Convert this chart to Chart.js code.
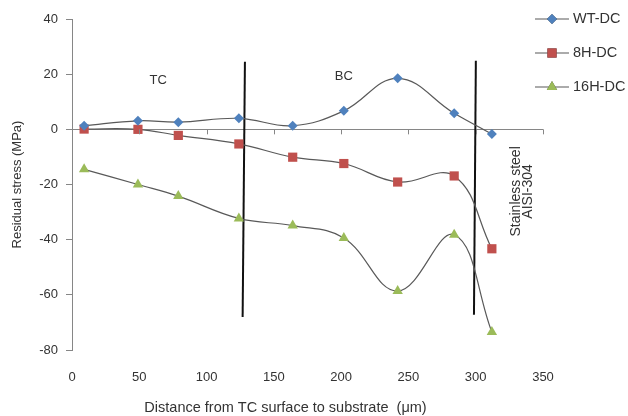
<!DOCTYPE html>
<html>
<head>
<meta charset="utf-8">
<script src="https://cdn.jsdelivr.net/npm/chart.js@4/dist/chart.umd.min.js"></script>
<style>
  html, body { margin: 0; padding: 0; background: #fff; }
  canvas { display: block; }
</style>
</head>
<body>
<canvas id="myChart" width="628" height="416"></canvas>
<script>
// distance from TC surface (um)
const xDist = [9, 49, 79, 124, 164, 202, 242, 284, 312];
const wtDC = [1.3, 3.1, 2.6, 4.0, 1.3, 6.7, 18.5, 5.8, -1.7];
const h8DC = [0.1, 0, -2.2, -5.3, -10.1, -12.4, -19.1, -16.9, -43.3];
const h16DC = [-14.5, -20.0, -24.2, -32.3, -34.9, -39.4, -58.6, -38.2, -73.5];
const seriesNames = ['WT-DC', '8H-DC', '16H-DC'];

// boundary lines TC/BC and BC/substrate
const tcLineX = [128.5, 126.8];
const tcLineY = [24.5, -68];
const bcLineX = [300.1, 298.7];
const bcLineY = [24.9, -67.2];

const xTitle = 'Distance from TC surface to substrate  (μm)';
const yTitle = 'Residual stress (MPa)';

const font = 'Liberation Sans, Arial, sans-serif';
const txtColor = '#333';
const axisColor = '#868686';

function pts(xs, ys) {
    return xs.map((x, i) => ({x: x, y: ys[i]}));
}

function series(label, ys, color, style, r) {
    return {
        label: label,
        data: pts(xDist, ys),
        borderColor: '#595959',
        borderWidth: 1.2,
        backgroundColor: color,
        pointBackgroundColor: color,
        pointBorderColor: color,
        pointBorderWidth: 0,
        pointStyle: style,
        pointRadius: r,
        tension: 0.4,
        order: 1,
        isSeries: true,
    };
}

function divider(xs, ys) {
    return {
        data: pts(xs, ys),
        borderColor: '#111',
        borderWidth: 2,
        pointRadius: 0,
        tension: 0,
        order: 2,
    };
}

const extras = {
    id: 'extras',
    afterDraw(chart) {
        const ctx = chart.ctx;
        const xs = chart.scales.x;
        const ys = chart.scales.y;
        const y0 = ys.getPixelForValue(0);
        ctx.save();

        // tick marks on the zero axis
        ctx.strokeStyle = axisColor;
        ctx.lineWidth = 1;
        xs.ticks.forEach(t => {
            const px = Math.round(xs.getPixelForValue(t.value)) + 0.5;
            ctx.beginPath();
            ctx.moveTo(px, y0);
            ctx.lineTo(px, y0 + 5);
            ctx.stroke();
        });

        ctx.fillStyle = txtColor;
        ctx.font = '13px ' + font;
        ctx.textAlign = 'center';
        ctx.textBaseline = 'middle';
        ctx.fillText('TC', xs.getPixelForValue(64), ys.getPixelForValue(17.7));
        ctx.fillText('BC', xs.getPixelForValue(202), ys.getPixelForValue(19.1));

        // substrate label
        ctx.font = '14px ' + font;
        ctx.save();
        ctx.translate(xs.getPixelForValue(334.5), ys.getPixelForValue(-22.5));
        ctx.rotate(-Math.PI / 2);
        ctx.fillText('Stainless steel', 0, -6);
        ctx.fillText('AISI-304', 0, 6);
        ctx.restore();

        // x title
        ctx.font = '14.5px ' + font;
        ctx.fillText(xTitle, 285.5, 408);

        // legend
        ctx.textAlign = 'left';
        let ly = 19;
        chart.data.datasets.filter(d => d.isSeries).forEach(d => {
            ctx.strokeStyle = '#595959';
            ctx.lineWidth = 1.2;
            ctx.beginPath();
            ctx.moveTo(535, ly);
            ctx.lineTo(569, ly);
            ctx.stroke();
            Chart.helpers.drawPoint(ctx, {pointStyle: d.pointStyle, radius: d.pointRadius, borderWidth: 0}, 552, ly);
            ctx.fillStyle = d.pointBackgroundColor;
            ctx.fill();
            ctx.fillStyle = txtColor;
            ctx.fillText(d.label, 573, ly);
            ly += 34;
        });

        ctx.restore();
    }
};

const canvas = document.getElementById('myChart').getContext('2d');
const chart = new Chart(canvas, {
    type: 'line',
    data: {
        datasets: [
            series(seriesNames[0], wtDC, '#4F81BD', 'rectRot', 5),
            series(seriesNames[1], h8DC, '#C0504D', 'rect', 6.5),
            series(seriesNames[2], h16DC, '#9BBB59', 'triangle', 6),
            divider(tcLineX, tcLineY),
            divider(bcLineX, bcLineY),
        ]
    },
    options: {
        responsive: false,
        animation: false,
        layout: { padding: { left: 0, right: 85, top: 19, bottom: 0 } },
        plugins: {
            legend: { display: false },
            tooltip: { enabled: false },
        },
        scales: {
            x: {
                type: 'linear',
                min: 0,
                max: 350,
                ticks: { stepSize: 50, color: txtColor, font: { family: font, size: 13 }, padding: 12 },
                grid: { display: false },
                border: { display: false },
                afterFit(scale) { scale.height = 66; },
            },
            y: {
                min: -80,
                max: 40,
                ticks: { stepSize: 20, color: txtColor, font: { family: font, size: 13 }, padding: 8 },
                grid: {
                    color: c => c.tick.value === 0 ? axisColor : 'rgba(0,0,0,0)',
                    tickColor: axisColor,
                    tickLength: 6,
                },
                border: { display: true, color: axisColor },
                title: {
                    display: true,
                    text: yTitle,
                    color: txtColor,
                    font: { family: font, size: 13 },
                    padding: { top: 10, bottom: 10 },
                },
                afterFit(scale) { scale.width = 72; },
            },
        },
    },
    plugins: [extras],
});
</script>
</body>
</html>
